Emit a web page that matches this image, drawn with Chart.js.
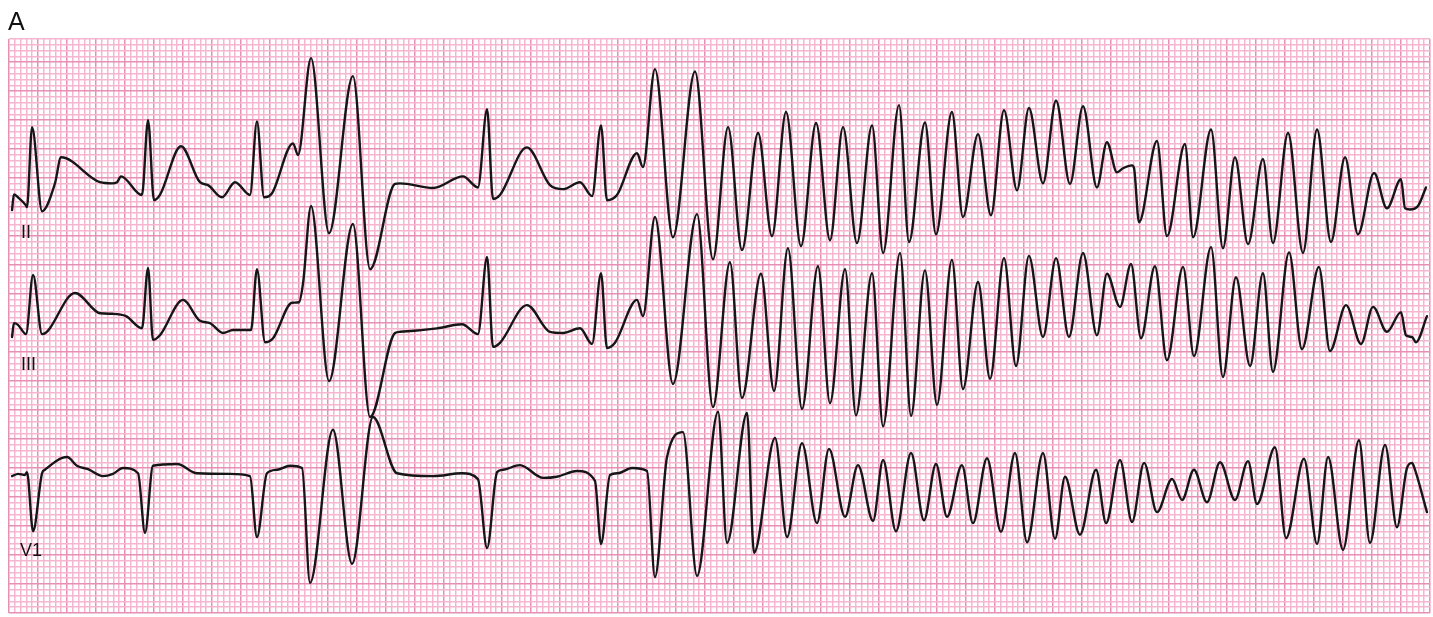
<!DOCTYPE html>
<html>
<head>
<meta charset="utf-8">
<script src="https://cdn.jsdelivr.net/npm/chart.js@4.4.1/dist/chart.umd.min.js"></script>
<style>
  html, body { margin: 0; padding: 0; background: #ffffff; }
  #wrap { position: absolute; left: 0; top: 0; width: 1433px; height: 617px; }
  .lbl { position: absolute; font-family: "Liberation Sans", Arial, sans-serif; color: #111111; line-height: 1; white-space: nowrap; }
</style>
</head>
<body>
<div id="wrap"><canvas id="c"></canvas></div>
<div class="lbl" style="left:8px; top:9px; font-size:25px;">A</div>
<div class="lbl" style="left:21px; top:223px; font-size:18px;">II</div>
<div class="lbl" style="left:21px; top:355px; font-size:18px;">III</div>
<div class="lbl" style="left:20px; top:541px; font-size:18px;">V1</div>
<script>
// Time axis in seconds (small box = 0.04 s), amplitude in mV (small box = 0.1 mV)
const leadNames = ["II", "III", "V1"];

const leadII_t = [0.021,0.034,0.062,0.117,0.124,0.159,0.228,0.317,0.359,0.628,
  0.710,0.745,0.772,0.917,0.959,1.000,1.041,1.186,1.317,1.372,
  1.469,1.559,1.662,1.710,1.759,1.814,1.959,1.993,2.083,2.207,
  2.372,2.490,2.662,2.697,2.924,3.131,3.234,3.297,3.338,3.386,
  3.572,3.731,3.821,3.938,4.021,4.083,4.124,4.193,4.331,4.372,
  4.455,4.579,4.731,4.855,4.959,5.055,5.166,5.262,5.359,5.462,
  5.566,5.662,5.752,5.848,5.952,6.028,6.138,6.207,6.317,6.393,
  6.503,6.579,6.683,6.772,6.862,6.952,7.034,7.131,7.221,7.317,
  7.407,7.503,7.572,7.641,7.683,7.745,7.759,7.793,7.917,7.986,
  8.110,8.166,8.290,8.372,8.455,8.545,8.648,8.717,8.821,8.924,
  9.021,9.117,9.214,9.303,9.414,9.503,9.600,9.628,9.662,9.717,9.772];
const leadII_mv = [-0.17,0.10,0.05,-0.09,-0.12,1.26,-0.19,0.29,0.74,0.31,
  0.29,0.31,0.41,0.09,1.38,0,0.09,0.93,0.31,0.26,
  0.05,0.31,0.09,1.36,0.05,0.12,0.98,0.78,2.45,-0.57,
  2.14,-1.19,0.28,0.29,0.21,0.41,0.22,1.57,0.02,0.09,
  0.91,0.26,0.19,0.31,0.07,1.29,0,0.09,0.81,0.57,
  2.26,-0.64,2.22,-1.02,1.26,-0.86,1.16,-0.62,1.52,-0.79,
  1.33,-0.69,1.26,-0.74,1.29,-0.91,1.64,-0.72,1.34,-0.59,
  1.52,-0.29,1.14,-0.26,1.55,0.17,1.59,0.29,1.72,0.28,
  1.62,0.22,1.00,0.48,0.55,0.60,0.55,-0.38,1.02,-0.62,
  0.97,-0.64,1.22,-0.83,0.74,-0.76,0.71,-0.74,1.16,-0.91,
  1.22,-0.72,0.74,-0.59,0.47,-0.14,0.36,-0.14,-0.16,-0.10,0.22];

const leadIII_t = [0.021,0.034,0.062,0.117,0.166,0.228,0.455,0.628,0.717,0.807,
  0.917,0.959,0.993,1.041,1.200,1.317,1.386,1.476,1.545,1.669,
  1.710,1.766,1.821,1.952,2.000,2.028,2.083,2.207,2.372,2.490,
  2.662,2.697,2.952,3.124,3.234,3.297,3.338,3.386,3.572,3.731,
  3.821,3.938,4.021,4.083,4.124,4.179,4.331,4.372,4.455,4.579,
  4.745,4.855,4.972,5.055,5.186,5.276,5.372,5.469,5.579,5.662,
  5.766,5.841,5.952,6.028,6.145,6.221,6.317,6.400,6.503,6.579,
  6.683,6.766,6.862,6.945,7.034,7.131,7.221,7.310,7.407,7.503,
  7.572,7.662,7.738,7.807,7.903,7.986,8.097,8.172,8.290,8.372,
  8.462,8.559,8.648,8.717,8.828,8.917,9.034,9.110,9.221,9.324,
  9.407,9.503,9.600,9.634,9.676,9.703,9.779];
const leadIII_mv = [-0.12,0.12,0.09,-0.07,0.95,-0.07,0.64,0.29,0.28,0.24,
  0.03,1.07,-0.17,-0.09,0.52,0.16,0.12,-0.05,0,0,
  1.05,-0.21,-0.14,0.47,0.48,0.81,2.14,-0.88,1.83,-1.50,
  -0.05,-0.03,0.03,0.10,-0.07,1.26,-0.29,-0.22,0.43,-0.03,
  -0.05,0.03,-0.24,0.98,-0.31,-0.22,0.52,0.24,1.95,-0.93,
  2.00,-1.33,1.17,-1.17,0.97,-1.05,1.41,-1.36,1.10,-1.26,
  1.05,-1.47,0.98,-1.66,1.33,-1.48,1.03,-1.29,1.21,-1.02,
  0.83,-0.84,1.24,-0.62,1.28,-0.12,1.24,-0.12,1.33,-0.09,
  0.97,0.40,1.14,-0.14,1.10,-0.52,1.09,-0.45,1.43,-0.81,
  0.91,-0.62,0.98,-0.72,1.34,-0.33,1.09,-0.36,0.43,-0.24,
  0.40,-0.03,0.31,-0.09,-0.12,-0.21,0.24];

const leadV1_t = [0.021,0.062,0.110,0.124,0.166,0.228,0.248,0.400,0.469,0.545,
  0.648,0.717,0.786,0.890,0.938,0.993,1.159,1.297,1.524,1.662,
  1.710,1.779,1.848,1.938,2.021,2.076,2.234,2.366,2.510,2.676,
  2.924,3.124,3.234,3.297,3.366,3.407,3.524,3.683,3.779,3.917,
  4.041,4.083,4.145,4.200,4.297,4.400,4.455,4.538,4.648,4.745,
  4.890,4.952,5.090,5.138,5.283,5.366,5.469,5.572,5.655,5.766,
  5.855,5.959,6.028,6.117,6.221,6.310,6.393,6.469,6.572,6.648,
  6.745,6.841,6.938,7.021,7.131,7.214,7.283,7.386,7.497,7.566,
  7.662,7.745,7.828,7.917,8.021,8.090,8.172,8.262,8.352,8.455,
  8.545,8.607,8.731,8.807,8.931,9.021,9.097,9.200,9.310,9.386,
  9.490,9.572,9.641,9.676,9.690,9.779];
const leadV1_mv = [-0.02,0.02,0,0.05,-0.97,0.03,0.09,0.31,0.16,0.10,
  -0.02,0.02,0.12,0.03,-1.00,0.16,0.19,0.03,0.02,-0.02,
  -1.07,0.03,0.09,0.16,0.12,-1.86,0.78,-1.53,1.00,0.03,
  -0.02,0.03,-0.07,-1.26,0.05,0.09,0.17,-0.05,-0.03,0.07,
  -0.10,-1.19,0,0.03,0.12,0.07,-1.76,0.31,0.74,-1.74,
  1.09,-1.17,1.07,-1.34,0.64,-1.07,0.55,-0.83,0.45,-0.72,
  0.17,-0.79,0.26,-0.97,0.38,-0.78,0.19,-0.72,0.17,-0.83,
  0.29,-0.98,0.38,-1.16,0.38,-1.10,-0.03,-1.03,0.09,-0.83,
  0.26,-0.81,0.21,-0.64,-0.07,-0.43,0.09,-0.47,0.22,-0.43,
  0.24,-0.50,0.48,-1.09,0.28,-1.19,0.31,-1.29,0.60,-1.17,
  0.52,-0.90,0.12,0.21,0.14,-0.64];

// Layout of the strips on the paper (baseline of each lead, mV above paper bottom)
const leadBaselines = [7.12, 4.88, 2.38];
const paperSeconds = 9.8;
const paperMillivolts = 9.9;

const leadTimes = [leadII_t, leadIII_t, leadV1_t];
const leadValues = [leadII_mv, leadIII_mv, leadV1_mv];

const minorColor = "#f6b6d0";
const majorColor = "#e690b6";

const datasets = leadNames.map((name, i) => ({
  label: name,
  data: leadTimes[i].map((t, k) => ({ x: t, y: leadValues[i][k] + leadBaselines[i] })),
  borderColor: "#161616",
  borderWidth: 2.4,
  pointRadius: 0,
  fill: false,
  cubicInterpolationMode: "monotone",
  borderJoinStyle: "round",
  borderCapStyle: "round"
}));

const gridColor = (ctx) => (ctx.index % 5 === 0 ? majorColor : minorColor);

new Chart(document.getElementById("c"), {
  type: "line",
  data: { datasets },
  options: {
    responsive: true,
    maintainAspectRatio: false,
    animation: false,
    events: [],
    layout: { padding: { left: 9, right: 3, top: 39, bottom: 4 } },
    plugins: { legend: { display: false }, tooltip: { enabled: false }, title: { display: false } },
    scales: {
      x: {
        type: "linear",
        min: 0,
        max: paperSeconds,
        ticks: { display: false, stepSize: 0.04 },
        grid: { color: gridColor, lineWidth: 1.5, drawTicks: false },
        border: { display: false }
      },
      y: {
        type: "linear",
        min: 0,
        max: paperMillivolts,
        ticks: { display: false, stepSize: 0.1 },
        grid: { color: gridColor, lineWidth: 1.5, drawTicks: false },
        border: { display: false }
      }
    }
  }
});
</script>
</body>
</html>
